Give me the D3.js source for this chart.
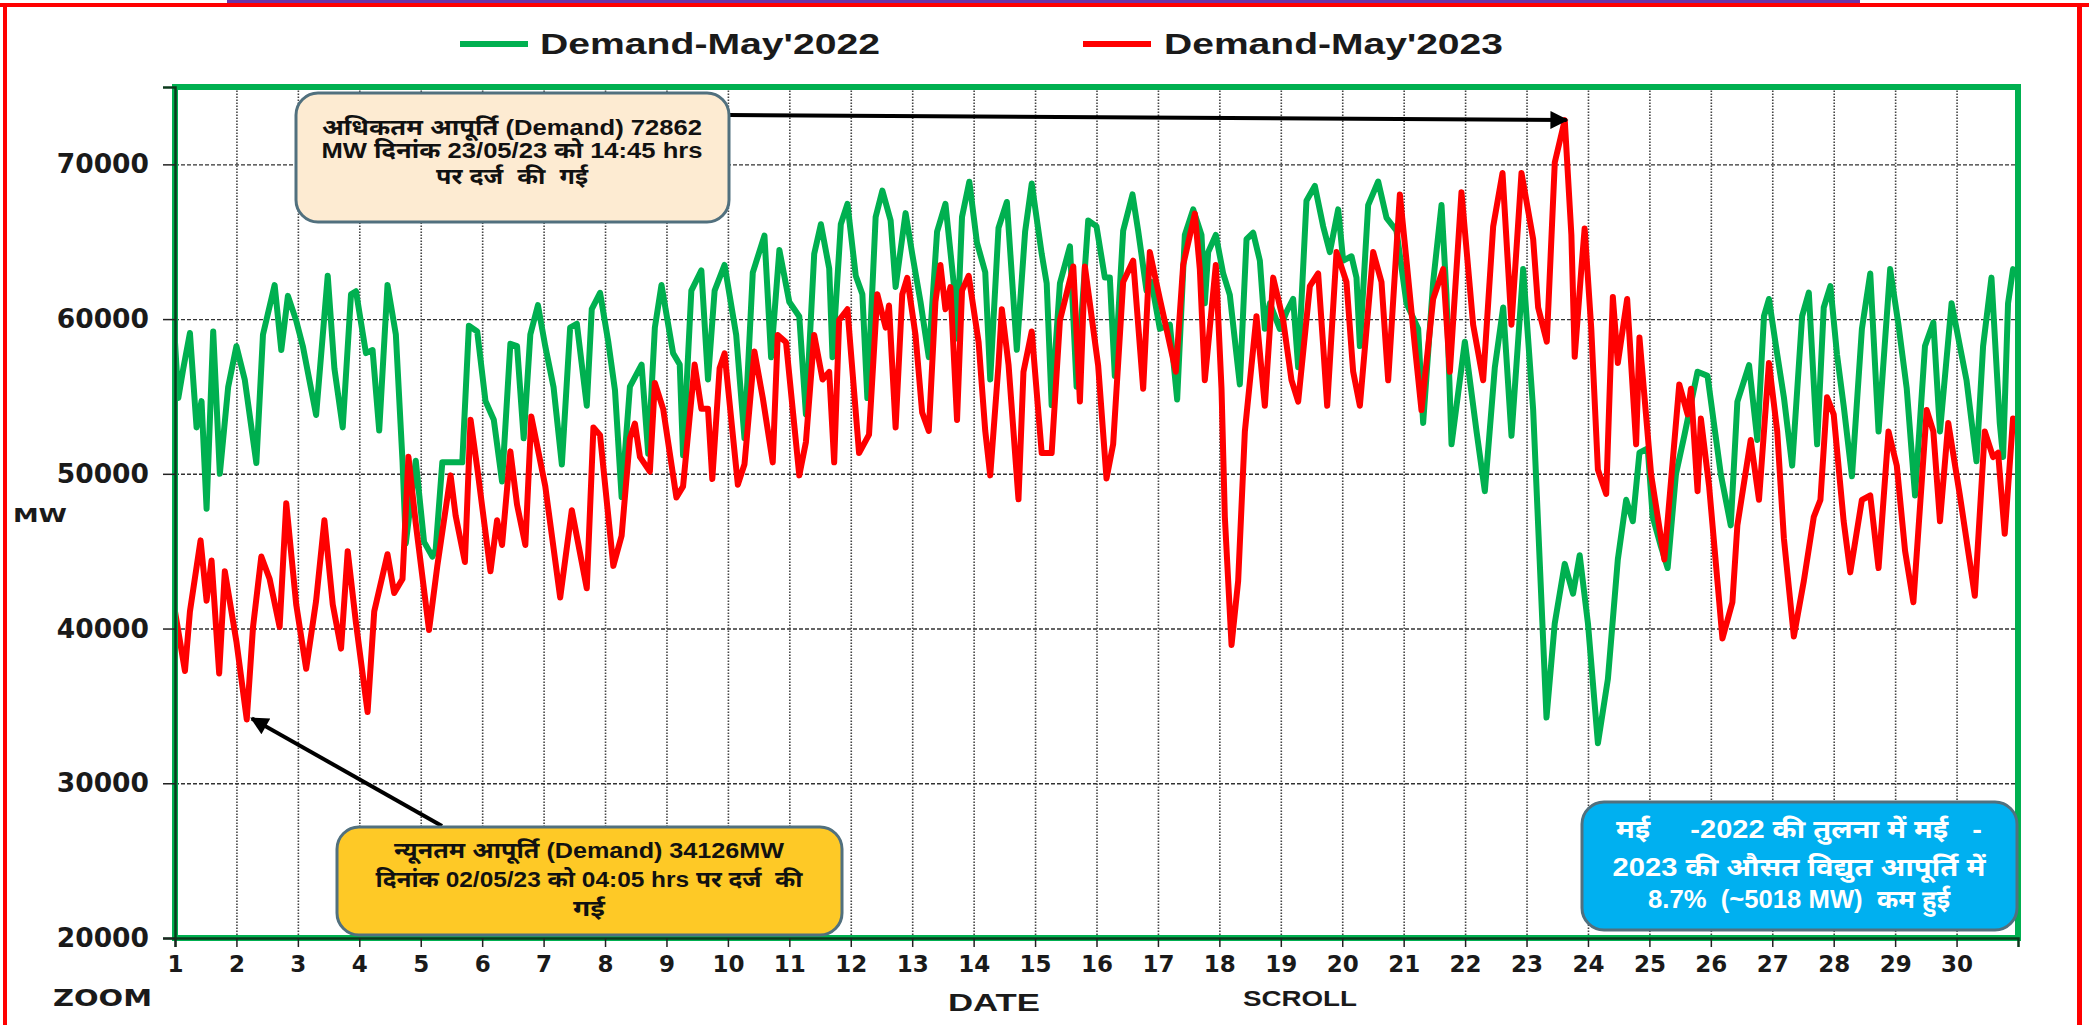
<!DOCTYPE html>
<html><head><meta charset="utf-8">
<script src="https://cdn.jsdelivr.net/npm/d3@7"></script>
<style>
html,body{margin:0;padding:0;background:#fff;}
svg{display:block;}
text{white-space:pre;}
</style></head><body>
<svg id="chart" width="2089" height="1025"></svg>
<script>
// ---------------- DATA ----------------
const legendLabels = ["Demand-May'2022", "Demand-May'2023"];
const seriesColors = ["#00B050", "#FF0000"];
const yTicks = [20000, 30000, 40000, 50000, 60000, 70000];
const xTicks = [1,2,3,4,5,6,7,8,9,10,11,12,13,14,15,16,17,18,19,20,21,22,23,24,25,26,27,28,29,30];

// [day of month (fractional), MW]
const demand2022 = [
[1.0,58500],[1.054,54900],[1.135,56800],[1.243,59100],[1.351,53000],[1.432,54700],[1.514,47750],[1.622,59200],[1.730,50000],[1.865,55600],
[2.0,58250],[2.135,56100],[2.324,50700],[2.432,59000],[2.622,62200],[2.730,58000],[2.838,61500],[2.973,59900],[3.081,58250],[3.297,53800],
[3.486,62800],[3.595,56800],[3.730,53000],[3.865,61600],[3.946,61800],[4.108,57800],[4.216,58000],[4.324,52800],[4.459,62200],[4.595,59000],
[4.703,50850],[4.757,45500],[4.919,50850],[5.054,45600],[5.189,44650],[5.243,45100],[5.351,50740],[5.676,50740],[5.784,59570],[5.919,59200],
[6.054,54700],[6.189,53500],[6.324,49500],[6.459,58400],[6.568,58250],[6.676,52300],[6.784,59000],[6.908,60900],[7.027,58250],[7.162,55600],
[7.297,50600],[7.432,59450],[7.541,59700],[7.703,54400],[7.784,60650],[7.919,61700],[8.054,58500],[8.162,55400],[8.270,48500],[8.405,55630],
[8.595,57060],[8.703,51300],[8.811,59450],[8.919,62200],[9.108,57800],[9.216,57060],[9.270,51200],[9.405,61840],[9.568,63150],[9.676,56100],
[9.784,61840],[9.946,63500],[10.135,58970],[10.270,52300],[10.405,63000],[10.595,65400],[10.703,57540],[10.838,64460],[11.0,61100],[11.162,60170],
[11.270,53840],[11.405,64220],[11.514,66130],[11.649,63270],[11.703,57540],[11.838,66130],[11.946,67450],[12.081,62800],[12.189,61600],[12.270,54900],
[12.405,66600],[12.514,68300],[12.649,66370],[12.730,62080],[12.892,66850],[13.0,64220],[13.135,61120],[13.270,57540],[13.405,65650],[13.541,67450],
[13.676,62300],[13.730,58740],[13.811,66600],[13.930,68880],[14.054,64940],[14.189,63030],[14.270,56100],[14.405,65900],[14.541,67570],[14.703,58020],
[14.838,65650],[14.946,68760],[15.108,64220],[15.189,62320],[15.270,54440],[15.405,62320],[15.568,64700],[15.676,55630],[15.865,66370],[16.0,65990],
[16.136,62680],[16.217,62680],[16.298,56330],[16.434,65710],[16.586,68060],[16.678,65710],[16.814,61850],[16.895,62400],[17.031,59370],[17.194,59640],
[17.313,54810],[17.438,65440],[17.574,67090],[17.709,65440],[17.763,61020],[17.818,64330],[17.942,65440],[18.062,62950],[18.170,61570],[18.333,55780],
[18.442,65160],[18.550,65580],[18.659,63780],[18.740,59370],[18.822,61020],[18.984,59370],[19.093,60470],[19.201,61300],[19.283,56880],[19.418,67650],
[19.554,68610],[19.690,65990],[19.798,64330],[19.934,67090],[20.015,63780],[20.151,64060],[20.232,62680],[20.287,58260],[20.422,67370],[20.585,68890],
[20.721,66540],[20.883,65710],[21.046,61020],[21.236,59370],[21.317,53290],[21.480,62400],[21.616,67370],[21.697,61570],[21.779,51910],[21.996,58540],
[22.186,52740],[22.321,48880],[22.484,56880],[22.620,60750],[22.755,52460],[22.945,63230],[23.108,54120],[23.189,46670],[23.325,34250],[23.459,40320],
[23.622,44180],[23.757,42250],[23.865,44740],[24.0,40320],[24.162,32590],[24.324,36730],[24.486,44460],[24.622,48320],[24.730,46940],[24.838,51360],
[24.973,51640],[25.054,47220],[25.189,45290],[25.297,43910],[25.432,49980],[25.568,52460],[25.784,56600],[25.946,56330],[26.162,49980],[26.324,46670],
[26.432,54670],[26.622,57020],[26.757,52190],[26.865,60190],[26.946,61300],[27.081,57710],[27.189,54950],[27.324,50530],[27.486,60190],[27.595,61710],
[27.730,51910],[27.838,60750],[27.946,62130],[28.054,57710],[28.162,54400],[28.297,49840],[28.459,59370],[28.595,62950],[28.730,52740],[28.919,63230],
[29.054,59640],[29.189,55500],[29.324,48600],[29.486,58260],[29.622,59780],[29.730,52740],[29.919,61020],[30.162,56050],[30.324,50810],[30.432,58260],
[30.568,62680],[30.703,53290],[30.757,51080],[30.838,61020],[30.919,63230]
];

const demand2023 = [
[1.0,41100],[1.162,37250],[1.243,41100],[1.416,45700],[1.514,41800],[1.595,44400],[1.719,37100],[1.811,43700],[2.0,39150],[2.168,34126],
[2.270,40100],[2.405,44650],[2.541,43200],[2.703,40100],[2.811,48100],[2.973,41550],[3.135,37400],[3.297,41800],[3.432,47000],[3.568,41550],
[3.703,38700],[3.811,45000],[3.946,40350],[4.135,34600],[4.243,41100],[4.459,44800],[4.568,42300],[4.703,43200],[4.800,51100],[4.919,46800],
[5.135,39900],[5.270,44050],[5.486,49900],[5.568,47300],[5.719,44300],[5.811,53500],[5.919,50400],[6.135,43700],[6.243,47000],[6.324,45400],
[6.459,51450],[6.568,48000],[6.703,45400],[6.800,53700],[7.027,49200],[7.270,42000],[7.459,47650],[7.703,42600],[7.811,53000],[7.919,52500],
[8.135,44050],[8.270,46000],[8.405,52290],[8.486,53250],[8.568,51100],[8.730,50140],[8.811,55870],[8.946,54200],[9.162,48470],[9.270,49190],
[9.459,57060],[9.568,54200],[9.676,54200],[9.746,49660],[9.865,56830],[9.946,57780],[10.162,49300],[10.270,50620],[10.432,57900],[10.568,54900],
[10.730,50740],[10.811,58970],[10.946,58500],[11.162,49900],[11.270,52050],[11.405,58970],[11.541,56100],[11.649,56590],[11.730,50740],[11.811,59930],
[11.946,60640],[12.135,51340],[12.297,52530],[12.432,61600],[12.568,59450],[12.622,60880],[12.730,53000],[12.838,61600],[12.919,62670],[13.054,58970],
[13.162,53960],[13.270,52770],[13.378,61120],[13.459,63500],[13.541,60640],[13.622,62070],[13.730,53480],[13.811,61840],[13.919,62800],[14.081,58500],
[14.189,52770],[14.270,49900],[14.405,57060],[14.459,60640],[14.568,57060],[14.730,48350],[14.811,56590],[14.946,59200],[15.108,51340],[15.270,51340],
[15.405,59930],[15.622,63400],[15.730,54680],[15.811,63400],[16.027,57000],[16.163,49700],[16.271,51910],[16.434,62400],[16.597,63780],[16.760,55500],
[16.868,64330],[17.031,61300],[17.139,59370],[17.291,56600],[17.411,63500],[17.601,66820],[17.682,63230],[17.763,56050],[17.942,63500],[18.035,55500],
[18.089,47220],[18.198,38940],[18.306,43080],[18.415,52740],[18.604,60190],[18.740,54400],[18.876,62680],[19.039,59920],[19.174,56050],[19.283,54670],
[19.473,62130],[19.608,62950],[19.690,58260],[19.755,54400],[19.907,64330],[20.069,62400],[20.178,56600],[20.287,54400],[20.504,64330],[20.639,62400],
[20.748,56050],[20.938,68060],[21.046,63780],[21.182,58260],[21.290,54120],[21.480,61300],[21.643,63230],[21.752,56600],[21.941,68200],[22.131,59640],
[22.294,56050],[22.457,65990],[22.609,69440],[22.755,59640],[22.918,69440],[23.108,65160],[23.189,60750],[23.330,58540],[23.460,70130],[23.622,72862],
[23.730,65440],[23.784,57570],[23.892,63230],[23.946,65850],[24.054,59370],[24.162,50260],[24.297,48700],[24.405,61430],[24.486,57160],[24.638,61300],
[24.784,51910],[24.838,58810],[25.027,49980],[25.243,44460],[25.486,55780],[25.622,53840],[25.676,55500],[25.784,48880],[25.838,53570],[25.973,49150],
[26.189,39360],[26.351,41700],[26.432,46670],[26.649,52190],[26.784,48320],[26.946,57160],[27.081,52740],[27.189,45840],[27.351,39490],[27.514,43080],
[27.676,47220],[27.784,48320],[27.892,54950],[28.0,53840],[28.162,46940],[28.270,43630],[28.459,48320],[28.595,48600],[28.730,43910],[28.892,52740],
[29.027,50530],[29.162,45010],[29.297,41700],[29.514,54120],[29.622,52740],[29.730,46940],[29.865,53290],[30.054,48600],[30.297,42120],[30.459,52740],
[30.595,51080],[30.676,51360],[30.784,46120],[30.919,53570]
];

const maxPoint = [23.62, 72862];
const minPoint = [2.168, 34126];
const maxNote = ["अधिकतम आपूर्ति (Demand) 72862", "MW दिनांक 23/05/23 को 14:45 hrs", "पर दर्ज  की  गई"];
const minNote = ["न्यूनतम आपूर्ति (Demand) 34126MW", "दिनांक 02/05/23 को 04:05 hrs पर दर्ज  की", "गई"];
const avgNote = ["मई     -2022 की तुलना में मई   -", "2023 की औसत विद्युत आपूर्ति में", "8.7%  (~5018 MW)  कम हुई"];

// ---------------- DRAW ----------------
(function () {
const svg = d3.select("#chart");
const W = 2089, H = 1025;
const FONT = "'Liberation Sans', Arial, 'Noto Sans Devanagari', 'Noto Sans', sans-serif";
const WIDE = "'DejaVu Sans', Verdana, sans-serif";

svg.append("rect").attr("width", W).attr("height", H).attr("fill", "#fff");

const pL = 175, pR = 2018, pT = 87, pB = 938;
const x = d3.scaleLinear().domain([1, 31]).range([pL, pR]);
const y = d3.scaleLinear().domain([20000, 75000]).range([pB, pT]);

// horizontal grid (dashed)
svg.append("g")
  .attr("transform", `translate(${pL},0)`)
  .call(d3.axisLeft(y).tickValues(yTicks.slice(1)).tickSize(-(pR - pL)).tickFormat(""))
  .call(g => g.select(".domain").remove())
  .call(g => g.selectAll("line").attr("stroke", "#333").attr("stroke-width", 1.4).attr("stroke-dasharray", "4,2"));

// vertical grid (dotted)
svg.append("g")
  .attr("transform", `translate(0,${pB})`)
  .call(d3.axisBottom(x).tickValues(xTicks.slice(1)).tickSize(-(pB - pT)).tickFormat(""))
  .call(g => g.select(".domain").remove())
  .call(g => g.selectAll("line").attr("stroke", "#444").attr("stroke-width", 1.6).attr("stroke-dasharray", "1.5,1.5"));

// lines
const line = d3.line().x(d => x(d[0])).y(d => y(d[1])).curve(d3.curveLinear);
[demand2022, demand2023].forEach((data, i) => {
  svg.append("path").datum(data)
    .attr("d", line)
    .attr("fill", "none")
    .attr("stroke", seriesColors[i])
    .attr("stroke-width", 6)
    .attr("stroke-linejoin", "round")
    .attr("stroke-linecap", "round");
});

// plot border (green)
svg.append("rect")
  .attr("x", pL).attr("y", pT).attr("width", pR - pL).attr("height", pB - pT)
  .attr("fill", "none").attr("stroke", "#00B050").attr("stroke-width", 6);

// axes
const yAxis = svg.append("g")
  .attr("transform", `translate(${pL},0)`)
  .call(d3.axisLeft(y).tickValues(yTicks).tickSize(12).tickPadding(14).tickFormat(d3.format("d")));
yAxis.select(".domain").attr("stroke", "#0b3a1c").attr("stroke-width", 2.5);
yAxis.selectAll(".tick line").attr("stroke", "#222").attr("stroke-width", 1.5);
yAxis.selectAll("text").attr("font-family", WIDE).attr("font-weight", "bold")
  .attr("font-size", 26.5).attr("fill", "#1a1a1a");

const xAxis = svg.append("g")
  .attr("transform", `translate(0,${pB})`)
  .call(d3.axisBottom(x).tickValues(xTicks).tickSize(9).tickPadding(9).tickFormat(d3.format("d")));
xAxis.select(".domain").attr("stroke", "#0b3a1c").attr("stroke-width", 2.5);
xAxis.selectAll(".tick line").attr("stroke", "#222").attr("stroke-width", 1.5);
xAxis.selectAll("text").attr("font-family", WIDE).attr("font-weight", "bold")
  .attr("font-size", 23).attr("fill", "#1a1a1a");

// axis labels
function label(txt, xx, yy, size, len, fam) {
  svg.append("text").attr("x", xx).attr("y", yy).text(txt)
    .attr("font-family", fam || FONT).attr("font-weight", "bold").attr("font-size", size)
    .attr("fill", "#1a1a1a").attr("textLength", len).attr("lengthAdjust", "spacingAndGlyphs");
}
label("MW", 13, 522, 20, 54, WIDE);
label("ZOOM", 53, 1006, 23, 99, WIDE);
label("DATE", 948, 1011, 24, 92);
label("SCROLL", 1243, 1006, 22, 114);

// legend
const legendPos = [{lx: 460, tx: 540, tl: 340}, {lx: 1083, tx: 1164, tl: 339}];
legendLabels.forEach((t, i) => {
  const p = legendPos[i];
  svg.append("line").attr("x1", p.lx).attr("x2", p.lx + 68).attr("y1", 44).attr("y2", 44)
    .attr("stroke", seriesColors[i]).attr("stroke-width", 6);
  svg.append("text").attr("x", p.tx).attr("y", 54).text(t)
    .attr("font-family", FONT).attr("font-weight", "bold").attr("font-size", 30)
    .attr("fill", "#1a1a1a").attr("textLength", p.tl).attr("lengthAdjust", "spacingAndGlyphs");
});

// arrows
const defs = svg.append("defs");
defs.append("marker").attr("id", "ah").attr("viewBox", "0 0 10 10").attr("refX", 9).attr("refY", 5)
  .attr("markerWidth", 5).attr("markerHeight", 4.5).attr("orient", "auto").attr("markerUnits", "strokeWidth")
  .append("path").attr("d", "M0,0 L10,5 L0,10 z").attr("fill", "#000");

svg.append("line").attr("x1", 729).attr("y1", 115).attr("x2", x(maxPoint[0]) + 2).attr("y2", y(maxPoint[1]))
  .attr("stroke", "#000").attr("stroke-width", 4).attr("marker-end", "url(#ah)");
svg.append("line").attr("x1", 442).attr("y1", 826).attr("x2", x(minPoint[0]) + 5).attr("y2", y(minPoint[1]) - 1)
  .attr("stroke", "#000").attr("stroke-width", 4).attr("marker-end", "url(#ah)");

// annotation boxes
function box(bx, by, bw, bh, fill, lines, baselines, widths, color, size, cx) {
  svg.append("rect").attr("x", bx).attr("y", by).attr("width", bw).attr("height", bh)
    .attr("rx", 22).attr("ry", 22).attr("fill", fill).attr("stroke", "#51707e").attr("stroke-width", 3);
  lines.forEach((t, i) => {
    svg.append("text").attr("x", cx).attr("y", baselines[i]).attr("text-anchor", "middle").text(t)
      .attr("font-family", FONT).attr("font-weight", "bold").attr("font-size", size).attr("fill", color)
      .attr("textLength", widths[i]).attr("lengthAdjust", "spacingAndGlyphs");
  });
}
box(296, 93, 433, 129, "#fdebd2", maxNote, [135, 158, 184], [380, 381, 152], "#111", 22, 512);
box(337, 827, 505, 108, "#fec926", minNote, [858, 887, 916], [390, 427, 32], "#111", 22, 589);
box(1582, 802, 435, 128, "#00b0f0", avgNote, [838, 876, 908], [366, 373, 302], "#fff", 25, 1799);

// outer frame
svg.append("rect").attr("x", 227).attr("y", 0).attr("width", 1633).attr("height", 3).attr("fill", "#6a35a8");
svg.append("line").attr("x1", 0).attr("x2", W).attr("y1", 5).attr("y2", 5).attr("stroke", "#ff0000").attr("stroke-width", 4);
svg.append("line").attr("x1", 5).attr("x2", 5).attr("y1", 3).attr("y2", H).attr("stroke", "#ff0000").attr("stroke-width", 4);
svg.append("line").attr("x1", 2079.5).attr("x2", 2079.5).attr("y1", 3).attr("y2", H).attr("stroke", "#ff0000").attr("stroke-width", 5);
})();
</script>
</body></html>
